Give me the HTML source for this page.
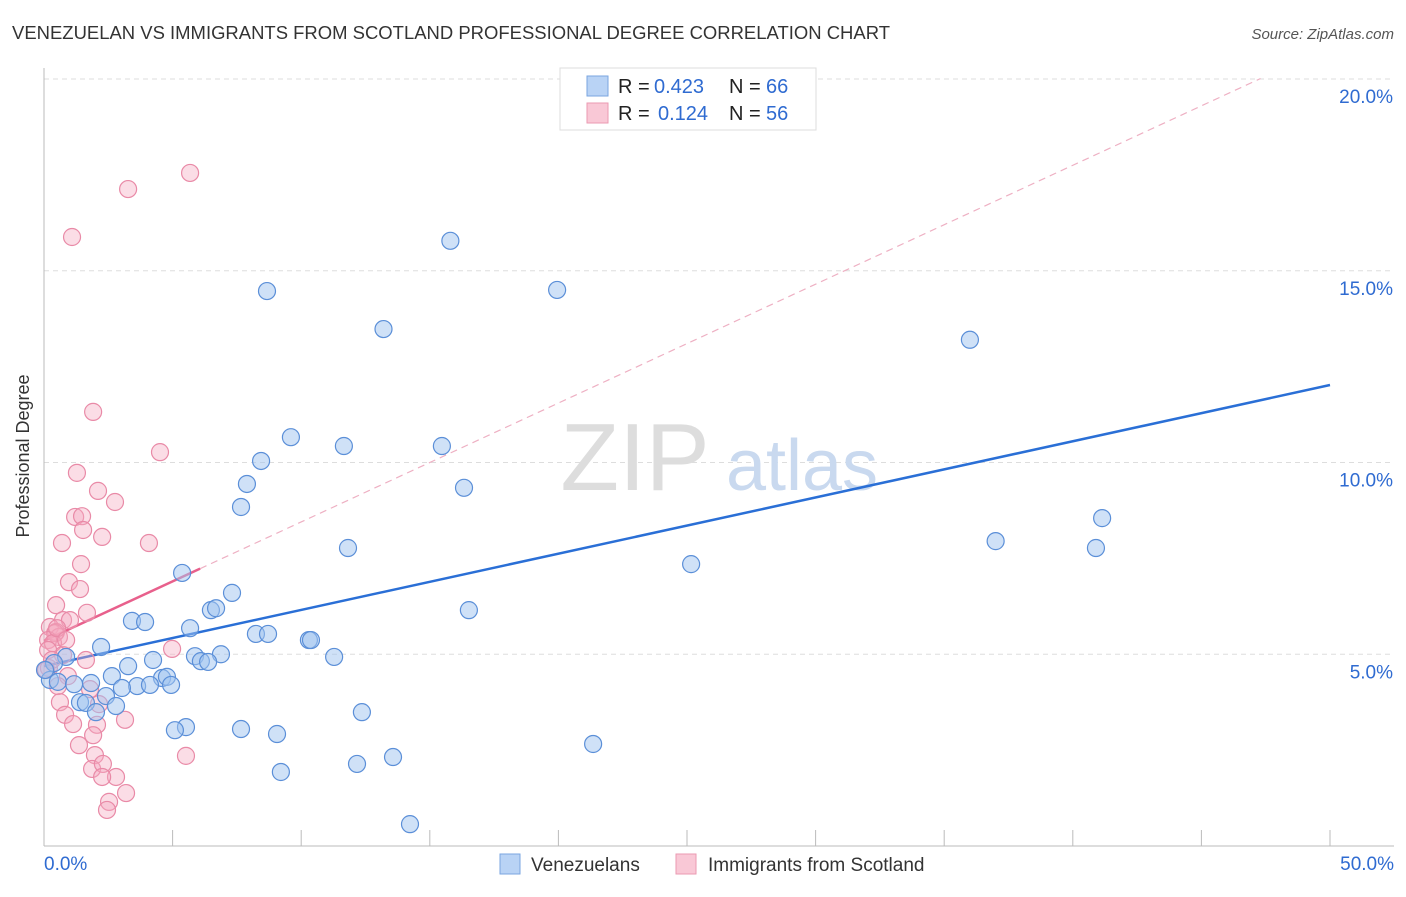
<!DOCTYPE html>
<html><head><meta charset="utf-8"><style>
body{margin:0;background:#fff;font-family:"Liberation Sans",sans-serif;}
svg text{font-family:"Liberation Sans",sans-serif;}
</style></head><body>
<svg id="chart" width="1406" height="892">
<text x="12" y="39" font-size="18.5" fill="#333" textLength="878" lengthAdjust="spacingAndGlyphs">VENEZUELAN VS IMMIGRANTS FROM SCOTLAND PROFESSIONAL DEGREE CORRELATION CHART</text>
<text x="1394" y="39" font-size="15" fill="#555" font-style="italic" text-anchor="end">Source: ZipAtlas.com</text>
<text x="29" y="456" font-size="18" fill="#333" text-anchor="middle" transform="rotate(-90 29 456)">Professional Degree</text>
<g id="grid"></g>
<g><text x="635" y="490" font-size="96" fill="#ddd" font-family="Liberation Serif" text-anchor="middle">ZIP</text><text x="802" y="490" font-size="72" fill="#c9d9ef" text-anchor="middle">atlas</text></g>
<g id="axes"></g>
<g id="trend"></g>
<g id="pts"></g>
<g>
<rect x="560" y="68" width="256" height="62" fill="#fff" stroke="#ddd"/>
<rect x="587" y="76" width="21" height="20" fill="#b9d3f5" stroke="#7aa6e0"/>
<rect x="587" y="103" width="21" height="20" fill="#f9c8d6" stroke="#eb9ab2"/>
<text y="93" font-size="20" fill="#222"><tspan x="618">R =</tspan><tspan x="654" fill="#2f6bd1">0.423</tspan><tspan x="729">N =</tspan><tspan x="766" fill="#2f6bd1">66</tspan></text>
<text y="120" font-size="20" fill="#222"><tspan x="618">R =</tspan><tspan x="658" fill="#2f6bd1">0.124</tspan><tspan x="729">N =</tspan><tspan x="766" fill="#2f6bd1">56</tspan></text>
</g>
<g>
<rect x="500" y="854" width="20" height="20" fill="#b9d3f5" stroke="#7aa6e0"/>
<text x="531" y="871" font-size="19" fill="#333">Venezuelans</text>
<rect x="676" y="854" width="20" height="20" fill="#f9c8d6" stroke="#eb9ab2"/>
<text x="708" y="871" font-size="19" fill="#333">Immigrants from Scotland</text>
</g>
</svg>
<script>
const blueX=[15.8,8.67,19.95,13.2,36.0,9.6,11.66,15.47,8.44,7.89,16.33,7.66,41.14,11.82,37.0,40.9,5.37,25.16,7.31,6.49,6.69,16.52,3.42,3.93,5.68,8.24,8.71,10.3,10.38,2.22,6.88,5.87,11.28,4.24,6.1,6.38,0.86,3.27,0.39,2.64,4.59,4.78,0.23,0.54,1.17,1.83,3.62,4.12,3.03,4.94,2.41,1.4,1.63,2.8,2.02,12.36,5.52,5.09,7.66,9.06,21.35,13.57,12.17,9.21,14.23,0.04];
const blueY=[15.78,14.47,14.5,13.48,13.2,10.66,10.43,10.43,10.04,9.44,9.34,8.84,8.55,7.77,7.95,7.77,7.12,7.35,6.6,6.15,6.2,6.15,5.87,5.84,5.68,5.53,5.53,5.37,5.37,5.19,5.0,4.95,4.93,4.85,4.82,4.8,4.93,4.69,4.77,4.43,4.38,4.41,4.33,4.28,4.22,4.25,4.17,4.2,4.12,4.2,3.91,3.75,3.73,3.65,3.49,3.49,3.1,3.02,3.05,2.92,2.66,2.32,2.14,1.93,0.57,4.59];
const pinkX=[5.68,3.27,1.09,1.91,4.51,1.28,2.1,2.76,1.21,1.48,1.52,0.7,2.26,4.08,1.44,0.97,1.4,0.47,1.67,0.74,1.01,0.23,0.47,0.58,0.43,0.16,0.35,4.98,1.63,0.74,0.19,0.93,0.54,1.79,0.62,2.14,0.82,3.15,1.13,2.06,1.91,1.36,1.98,5.52,1.87,2.29,2.8,2.26,3.19,2.53,2.45,0.16,0.31,0.08,0.51,0.86];
const pinkY=[17.55,17.13,15.88,11.32,10.27,9.73,9.26,8.97,8.58,8.6,8.24,7.9,8.06,7.9,7.35,6.88,6.7,6.28,6.08,5.89,5.89,5.71,5.58,5.45,5.55,5.37,5.29,5.14,4.85,4.98,4.64,4.43,4.17,4.09,3.75,3.7,3.42,3.29,3.18,3.16,2.89,2.63,2.37,2.35,2.01,2.14,1.8,1.8,1.38,1.15,0.94,5.11,4.85,4.59,5.68,5.37];
const yTicks=[5,10,15,20];
const xTickVals=[0,5,10,15,20,25,30,35,40,45,50];
const blueTrend=[4.69,12.02];
const pinkTrend=[5.35,0.31];
const NS='http://www.w3.org/2000/svg';
const sx=v=>44+v*25.72, sy=v=>846-v*38.35;
function mk(tag,attrs,parent){const e=document.createElementNS(NS,tag);for(const k in attrs)e.setAttribute(k,attrs[k]);parent.appendChild(e);return e;}
const grid=document.getElementById('grid'),axes=document.getElementById('axes'),trend=document.getElementById('trend'),pts=document.getElementById('pts');
yTicks.forEach(t=>{
 const l=mk('line',{x1:44,x2:1394,y1:sy(t),y2:sy(t),stroke:'#ddd','stroke-dasharray':'5,4'},grid);
 
 
 const tx=mk('text',{x:1393,y:sy(t)+24,'font-size':19,fill:'#2f6bd1','text-anchor':'end'},axes);
 tx.textContent=t.toFixed(1)+'%';
 
 
});
mk('line',{x1:44,x2:44,y1:68,y2:846,stroke:'#bbb'},axes);
mk('line',{x1:44,x2:1394,y1:846,y2:846,stroke:'#bbb'},axes);
xTickVals.forEach(t=>{const l=mk('line',{x1:sx(t),x2:sx(t),y1:830,y2:846,stroke:'#bbb'},axes);
 
 });
[[0,'0.0%','start',44],[50,'50.0%','end',1394]].forEach(a=>{const tx=mk('text',{x:a[3],y:870,'font-size':19,fill:'#2f6bd1','text-anchor':a[2]},axes);tx.textContent=a[1];
 
 });
function addPts(xs,ys,fill,stroke,name){xs.forEach((x,i)=>{const c=mk('circle',{cx:sx(x),cy:sy(ys[i]),r:8.5,fill:fill,stroke:stroke,'stroke-width':1.2},pts);
 
 });}
addPts(pinkX,pinkY,'rgba(246,170,192,0.4)','#e98aa7','scotland-point');
addPts(blueX,blueY,'rgba(160,196,240,0.5)','#5b8fd8','venezuelan-point');
const pd=mk('line',{x1:sx(6.07),y1:sy(pinkTrend[0]+pinkTrend[1]*6.07),x2:sx(47.3),y2:sy(pinkTrend[0]+pinkTrend[1]*47.3),stroke:'#eeb0c3','stroke-width':1.2,'stroke-dasharray':'7,5'},trend);


const ps=mk('line',{x1:sx(0),y1:sy(pinkTrend[0]),x2:sx(6.07),y2:sy(pinkTrend[0]+pinkTrend[1]*6.07),stroke:'#e8608c','stroke-width':2.5},trend);


const bl=mk('line',{x1:sx(0),y1:sy(blueTrend[0]),x2:sx(50),y2:sy(blueTrend[1]),stroke:'#2a6fd6','stroke-width':2.5},trend);


</script>
</body></html>
